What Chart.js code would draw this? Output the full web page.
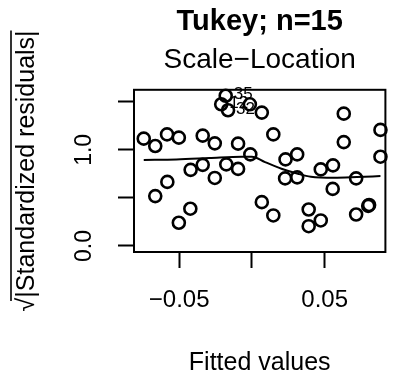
<!DOCTYPE html>
<html>
<head>
<meta charset="utf-8">
<script src="https://cdn.jsdelivr.net/npm/chart.js@4.4.1/dist/chart.umd.min.js"></script>
<style>
  body { margin: 0; background: #fff; }
  canvas { display: block; }
</style>
</head>
<body>
<canvas id="slChart" width="394" height="380"></canvas>
<script>
// fitted values and sqrt(|standardized residuals|)
const fittedX = [
  -0.0743, -0.0664, -0.0664, -0.0583, -0.0581, -0.0502, -0.0502, -0.0421, -0.0423,
  -0.0338, -0.0338, -0.0255, -0.0255, -0.0176, -0.0095, -0.0095, -0.0011, -0.0014,
  0.0068, 0.0068, 0.0147, 0.0147, 0.0231, 0.0228, 0.0311, 0.0311, 0.0390, 0.0390,
  0.0473, 0.0473, 0.0557, 0.0555, 0.0631, 0.0631, 0.0716, 0.0716, 0.0799, 0.0805,
  0.0883, 0.0883
];
const sqrtResid = [
  1.117, 1.040, 0.519, 1.161, 0.667, 1.127, 0.242, 0.792, 0.388,
  1.148, 0.844, 1.068, 0.708, 0.849, 1.065, 0.802, 0.953, 1.474,
  1.388, 0.456, 1.161, 0.318, 0.901, 0.703, 0.953, 0.714, 0.380, 0.206,
  0.797, 0.266, 0.839, 0.594, 1.377, 1.081, 0.703, 0.328, 0.417, 0.427,
  1.208, 0.929
];

// the three flagged observations
const idLabels = ['35', '12', '32'];
const idX = [-0.0180, -0.0211, -0.0164];
const idY = [1.563, 1.475, 1.412];

// smoother
const smoothX = [-0.0743, -0.0518, -0.0293, -0.0068, 0.0000, 0.0090, 0.0203, 0.0316, 0.0405, 0.0563, 0.0721, 0.0883];
const smoothY = [0.894, 0.901, 0.915, 0.929, 0.929, 0.873, 0.804, 0.752, 0.721, 0.710, 0.717, 0.727];

const yTitle = '\u221A|Standardized residuals|';

const points = fittedX.map((x, i) => ({ x: x, y: sqrtResid[i] }));
const idPoints = idX.map((x, i) => ({ x: x, y: idY[i] }));
const smooth = smoothX.map((x, i) => ({ x: x, y: smoothY[i] }));

const FONT = '"Liberation Sans", Arial, Helvetica, sans-serif';

const boxPlugin = {
  id: 'rBox',
  afterDraw(chart) {
    const { ctx, chartArea: a, scales } = chart;
    ctx.save();
    ctx.strokeStyle = '#000';
    ctx.lineWidth = 2;
    ctx.strokeRect(a.left, a.top, a.right - a.left, a.bottom - a.top);

    // point labels
    ctx.fillStyle = '#000';
    ctx.font = '17px ' + FONT;
    ctx.textAlign = 'left';
    ctx.textBaseline = 'middle';
    idLabels.forEach((t, i) => {
      const px = scales.x.getPixelForValue(idX[i]);
      const py = scales.y.getPixelForValue(idY[i]);
      ctx.fillText(t, px + 8, py - 1);
    });

    // overline of the radical in the y title
    ctx.font = '25px ' + FONT;
    const full = ctx.measureText(yTitle).width;
    const rad = ctx.measureText('\u221A').width;
    const cy = (a.top + a.bottom) / 2;
    ctx.lineWidth = 1.6;
    ctx.beginPath();
    ctx.moveTo(11, cy + full / 2 - rad * 0.75);
    ctx.lineTo(11, cy - full / 2);
    ctx.stroke();
    ctx.restore();
  }
};

const circleStyle = {
  pointStyle: 'circle',
  pointRadius: 6,
  pointBorderWidth: 2.6,
  pointBorderColor: '#000',
  pointBackgroundColor: 'rgba(0,0,0,0)',
  clip: false
};

new Chart(document.getElementById('slChart'), {
  type: 'scatter',
  data: {
    datasets: [
      Object.assign({ data: points }, circleStyle),
      Object.assign({ data: idPoints }, circleStyle),
      {
        type: 'line',
        data: smooth,
        borderColor: '#000',
        borderWidth: 2,
        pointRadius: 0,
        cubicInterpolationMode: 'monotone',
        fill: false
      }
    ]
  },
  options: {
    responsive: false,
    animation: false,
    layout: { padding: { top: 0, right: 5, bottom: 0, left: 0 } },
    plugins: {
      legend: { display: false },
      tooltip: { enabled: false },
      title: {
        display: true,
        text: 'Tukey; n=15',
        color: '#000',
        fullSize: false,
        font: { family: FONT, size: 29, weight: 'bold' },
        padding: { top: 5, bottom: 3 }
      },
      subtitle: {
        display: true,
        text: 'Scale\u2212Location',
        color: '#000',
        fullSize: false,
        font: { family: FONT, size: 28 },
        padding: { top: 1, bottom: 12.4 }
      }
    },
    scales: {
      x: {
        type: 'linear',
        min: -0.081,
        max: 0.0917,
        border: { display: false },
        grid: {
          drawOnChartArea: false,
          drawTicks: true,
          tickLength: 16,
          tickColor: '#000',
          tickWidth: 2
        },
        ticks: {
          stepSize: 0.05,
          includeBounds: false,
          autoSkip: false,
          maxRotation: 0,
          padding: 18,
          color: '#000',
          font: { family: FONT, size: 24 },
          callback: v => Math.abs(Math.abs(v) - 0.05) < 1e-9 ? (v < 0 ? '\u22120.05' : '0.05') : ''
        },
        title: {
          display: true,
          text: 'Fitted values',
          color: '#000',
          font: { family: FONT, size: 25 },
          padding: { top: 0, bottom: 2 }
        },
        afterFit: s => { s.height = 128; }
      },
      y: {
        type: 'linear',
        min: -0.0625,
        max: 1.625,
        border: { display: false },
        grid: {
          drawOnChartArea: false,
          drawTicks: true,
          tickLength: 16,
          tickColor: '#000',
          tickWidth: 2
        },
        ticks: {
          stepSize: 0.5,
          includeBounds: false,
          autoSkip: false,
          minRotation: 90,
          maxRotation: 90,
          crossAlign: 'center',
          padding: 17,
          color: '#000',
          font: { family: FONT, size: 23 },
          callback: v => (Math.abs(v) < 1e-9 || Math.abs(v - 1) < 1e-9) ? v.toFixed(1) : ''
        },
        title: {
          display: true,
          text: yTitle,
          color: '#000',
          font: { family: FONT, size: 25 },
          padding: { top: 12, bottom: 0 }
        },
        afterFit: s => { s.width = 134; }
      }
    }
  },
  plugins: [boxPlugin]
});
</script>
</body>
</html>
